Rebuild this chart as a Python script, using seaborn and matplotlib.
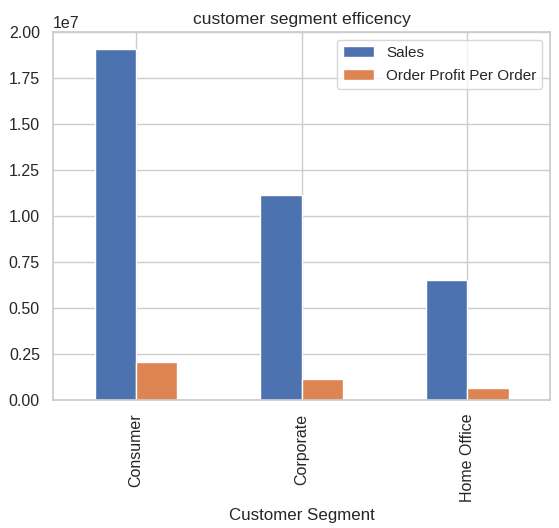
import matplotlib
matplotlib.use("Agg")
import matplotlib.pyplot as plt
import seaborn as sns
import pandas as pd

segments = ["Consumer", "Corporate", "Home Office"]
sales = [1.908e7, 1.114e7, 0.652e7]
profit = [0.2065e7, 0.114e7, 0.066e7]
series_names = ["Sales", "Order Profit Per Order"]

sns.set_theme(style="whitegrid")
plt.rcParams['font.family'] = ['Liberation Sans', 'DejaVu Sans']

df = pd.DataFrame({
    "Customer Segment": segments * 2,
    "value": sales + profit,
    "series": [series_names[0]] * 3 + [series_names[1]] * 3,
})

fig = plt.figure(figsize=(5.59, 5.28), dpi=100)
ax = fig.add_axes([0.095, 0.242, 0.889, 0.697])
sns.barplot(data=df, x="Customer Segment", y="value", hue="series",
            width=0.5, palette=["#4C72B0", "#DD8452"], ax=ax, saturation=1,
            edgecolor="white", linewidth=1)
ax.set_xlim(-0.5, 2.5)
ax.set_ylim(0, 2e7)
ax.set_yticks([i * 0.25e7 for i in range(9)])
ax.xaxis.grid(True)
ax.set_axisbelow(True)
ax.set_ylabel("")
ax.set_xlabel("Customer Segment", fontsize=12.2)
ax.set_title("customer segment efficency", fontsize=12.6)
ax.tick_params(axis="x", labelrotation=90, labelsize=11.5)
ax.tick_params(axis="y", labelsize=11.5)
ax.yaxis.get_offset_text().set_fontsize(11.5)
leg = ax.legend(loc="upper right", fontsize=11, title=None, labelspacing=0.6)
fig.savefig("out.png", dpi=100)
